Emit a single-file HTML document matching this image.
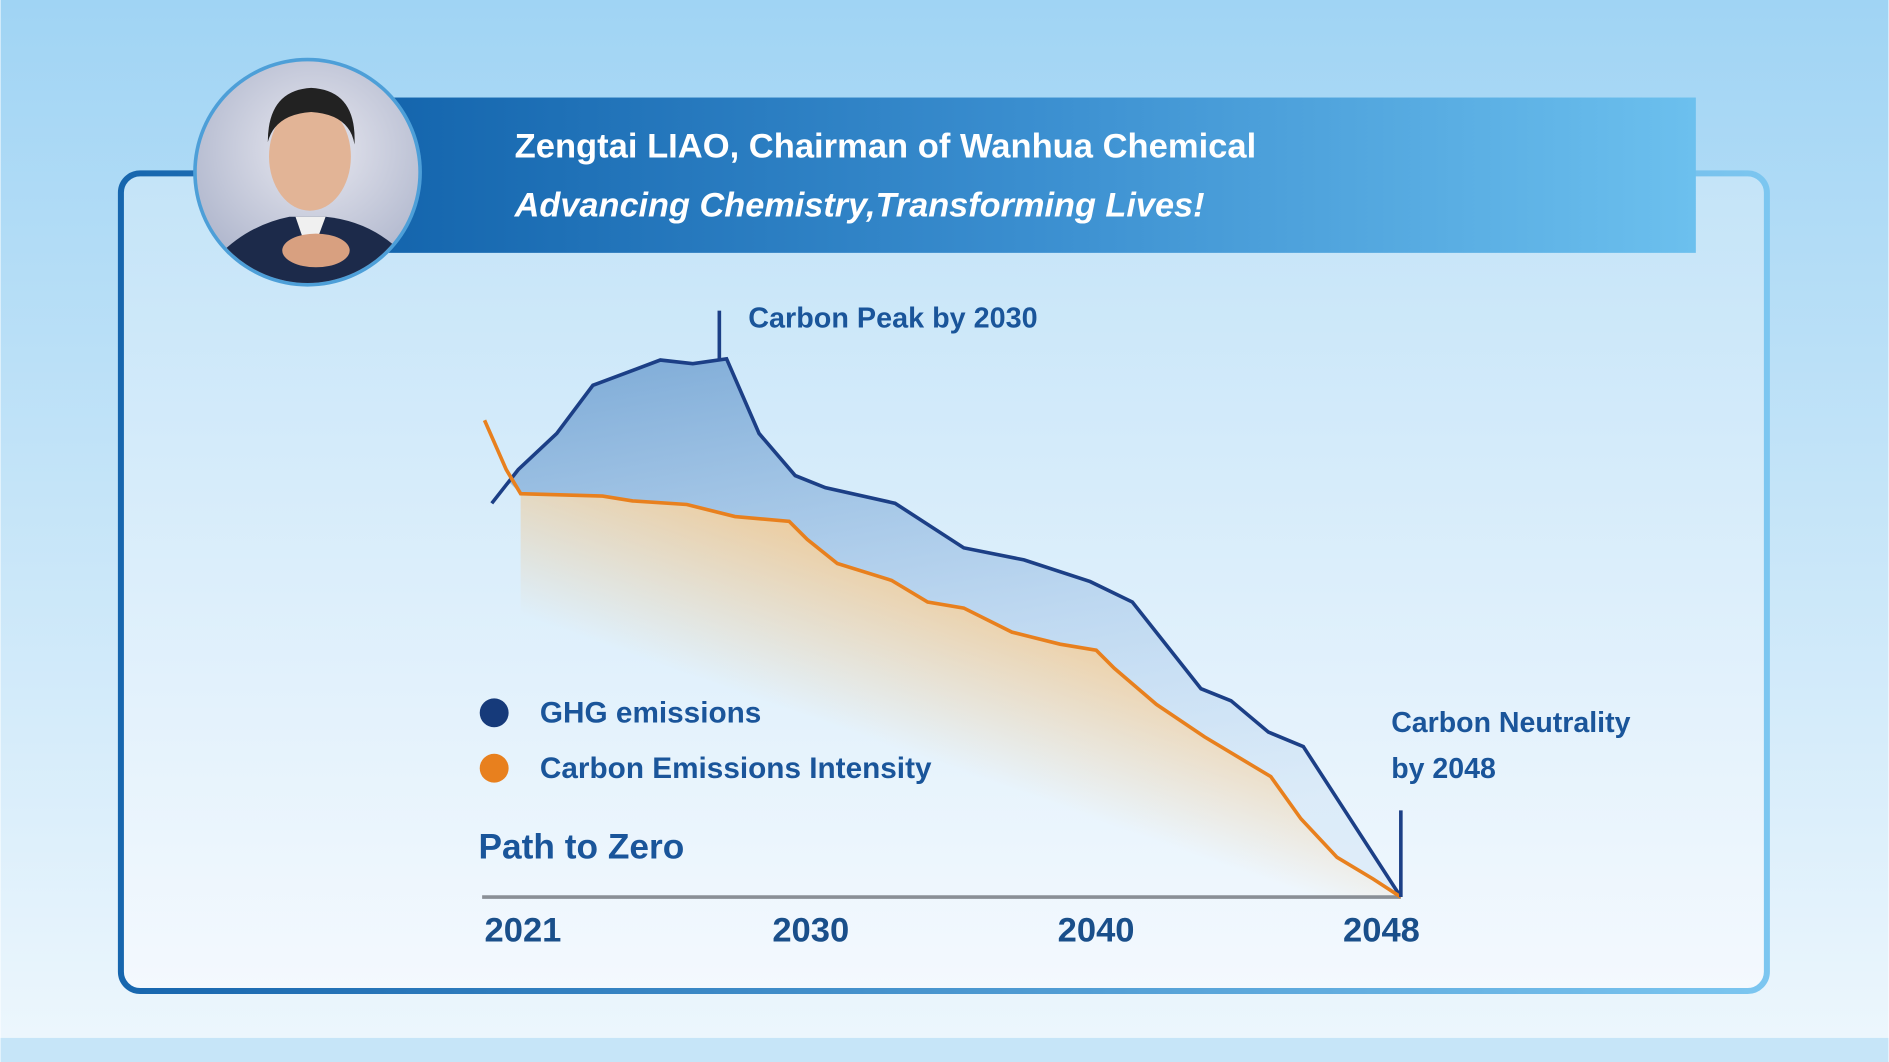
<!DOCTYPE html>
<html><head><meta charset="utf-8"><style>
html,body{margin:0;padding:0;width:1889px;height:1062px;overflow:hidden}
svg{display:block}
text{font-family:"Liberation Sans",sans-serif;font-weight:bold}
</style></head><body>
<svg width="1889" height="1062" viewBox="0 0 1568 882" xmlns="http://www.w3.org/2000/svg">
<defs>
<linearGradient id="bg" x1="0" y1="0" x2="0" y2="1"><stop offset="0" stop-color="#a0d4f4"/><stop offset="1" stop-color="#eef7fd"/></linearGradient>
<linearGradient id="inner" x1="0" y1="0" x2="0" y2="1"><stop offset="0" stop-color="#c4e4f8"/><stop offset="1" stop-color="#f4f9fe"/></linearGradient>
<linearGradient id="frame" x1="0" y1="0" x2="1" y2="0"><stop offset="0" stop-color="#1766ae"/><stop offset="1" stop-color="#7cc6f0"/></linearGradient>
<linearGradient id="banner" x1="0" y1="0" x2="1" y2="0"><stop offset="0" stop-color="#1465ad"/><stop offset="0.5" stop-color="#3b8fd0"/><stop offset="1" stop-color="#6cc0ee"/></linearGradient>
<linearGradient id="blue" x1="0" y1="0" x2="0.3" y2="1"><stop offset="0" stop-color="#6e9fd0" stop-opacity="0.85"/><stop offset="0.6" stop-color="#a9c9ea" stop-opacity="0.6"/><stop offset="1" stop-color="#c8def3" stop-opacity="0.4"/></linearGradient>
<linearGradient id="orng" x1="0.8" y1="0.2" x2="0.45" y2="0.65"><stop offset="0" stop-color="#f0b66a" stop-opacity="0.9"/><stop offset="0.35" stop-color="#f3c384" stop-opacity="0.75"/><stop offset="1" stop-color="#f4c486" stop-opacity="0"/></linearGradient>
<radialGradient id="face" cx="0.5" cy="0.4" r="0.6"><stop offset="0" stop-color="#e8e8f0"/><stop offset="1" stop-color="#a8b0c8"/></radialGradient>
<clipPath id="cc"><circle cx="255" cy="143" r="92"/></clipPath>
</defs>
<rect width="1568" height="882" fill="url(#bg)"/>
<rect x="0" y="862" width="1568" height="20" fill="#c6e5f8"/>
<rect x="100" y="144" width="1367" height="679" rx="16" fill="url(#inner)" stroke="url(#frame)" stroke-width="5"/>
<rect x="320" y="81" width="1088" height="129" fill="url(#banner)"/>
<circle cx="255" cy="143" r="95" fill="#4d9fd8"/>
<g clip-path="url(#cc)">
<rect x="150" y="40" width="220" height="210" fill="url(#face)"/>
<path d="M160 240 Q190 190 240 180 L270 180 Q320 185 350 230 L350 250 L160 250Z" fill="#1c2a4a"/>
<ellipse cx="257" cy="130" rx="34" ry="45" fill="#e2b496"/>
<path d="M222 118 Q222 75 258 73 Q296 75 294 120 Q290 95 258 93 Q228 95 222 118Z" fill="#222"/>
<path d="M245 180 L257 215 L270 180Z" fill="#f0f0f0"/>
<ellipse cx="262" cy="208" rx="28" ry="14" fill="#d8a080"/>
</g>
<text x="427" y="131" font-size="28.7" fill="#fff">Zengtai LIAO, Chairman of Wanhua Chemical</text>
<text x="427" y="180" font-size="28.5" fill="#fff" font-style="italic">Advancing Chemistry,Transforming Lives!</text>
<path d="M432 410 L500 412 L525 416 L570 419 L610 429 L655 433 L670 448 L695 468 L740 482 L770 500 L800 505 L840 525 L880 535 L910 540 L925 555 L960 585 L1000 612 L1030 630 L1055 645 L1080 680 L1110 712 L1140 730 L1163 745 L432 745Z" fill="url(#orng)"/>
<path d="M422 400 L430 390 L462 360 L492 320 L548 299 L575 302 L603 298 L630 360 L660 395 L685 405 L743 418 L800 455 L850 465 L905 483 L940 500 L997 572 L1022 582 L1053 608 L1082 620 L1163 745 L1140 730 L1110 712 L1080 680 L1055 645 L1030 630 L1000 612 L960 585 L925 555 L910 540 L880 535 L840 525 L800 505 L770 500 L740 482 L695 468 L670 448 L655 433 L610 429 L570 419 L525 416 L500 412 L432 410Z" fill="url(#blue)"/>
<line x1="400" y1="745" x2="1163" y2="745" stroke="#8a8f96" stroke-width="3"/>
<polyline points="408,418 430,390 462,360 492,320 548,299 575,302 603,298 630,360 660,395 685,405 743,418 800,455 850,465 905,483 940,500 997,572 1022,582 1053,608 1082,620 1163,745" fill="none" stroke="#1c3f86" stroke-width="3"/>
<polyline points="402,349 420,390 432,410 500,412 525,416 570,419 610,429 655,433 670,448 695,468 740,482 770,500 800,505 840,525 880,535 910,540 925,555 960,585 1000,612 1030,630 1055,645 1080,680 1110,712 1140,730 1163,745" fill="none" stroke="#e8801e" stroke-width="3"/>
<line x1="597" y1="258" x2="597" y2="299" stroke="#1c3f86" stroke-width="3"/>
<line x1="1163" y1="673" x2="1163" y2="745" stroke="#1c3f86" stroke-width="3"/>
<text x="621" y="272" font-size="23.9" fill="#1a559a">Carbon Peak by 2030</text>
<text x="1155" y="608" font-size="23.7" fill="#1a559a">Carbon Neutrality</text>
<text x="1155" y="646" font-size="23.7" fill="#1a559a">by 2048</text>
<circle cx="410" cy="592" r="12" fill="#163a7a"/>
<circle cx="410" cy="638" r="12" fill="#e8801e"/>
<text x="448" y="600" font-size="24.7" fill="#1a559a">GHG emissions</text>
<text x="448" y="646" font-size="24.7" fill="#1a559a">Carbon Emissions Intensity</text>
<text x="397" y="713" font-size="29.3" fill="#1a559a">Path to Zero</text>
<g font-size="28.7" fill="#1a4f8a">
<text x="402" y="782">2021</text><text x="641" y="782">2030</text><text x="878" y="782">2040</text><text x="1115" y="782">2048</text>
</g>
</svg>
</body></html>
